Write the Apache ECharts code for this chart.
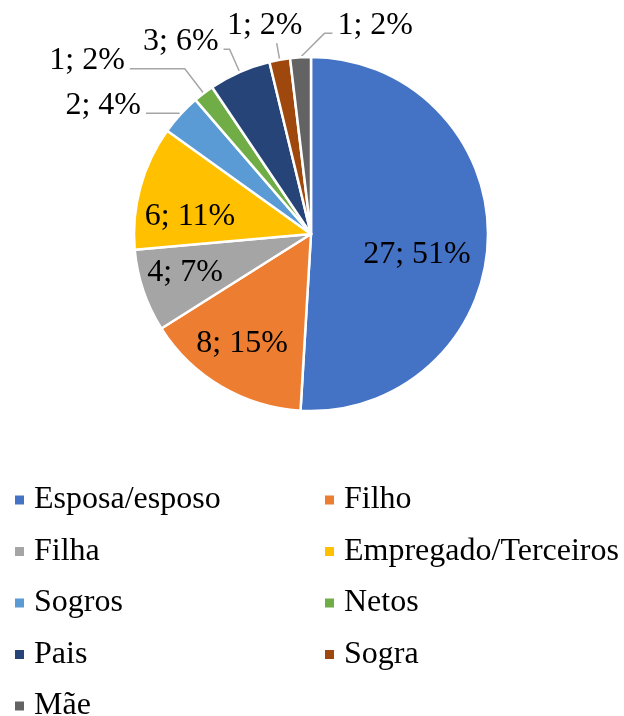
<!DOCTYPE html>
<html>
<head>
<meta charset="utf-8">
<script src="https://cdn.jsdelivr.net/npm/echarts@6/dist/echarts.min.js"></script>
<style>
  html, body { margin: 0; padding: 0; background: #fff; }
  #chart { width: 624px; height: 716px; }
</style>
</head>
<body>
<div id="chart"></div>
<script>
// ---- data ----
const categories = ['Esposa/esposo', 'Filho', 'Filha', 'Empregado/Terceiros', 'Sogros', 'Netos', 'Pais', 'Sogra', 'Mãe'];
const counts = [27, 8, 4, 6, 2, 1, 3, 1, 1];
const percentLabels = [51, 15, 7, 11, 4, 2, 6, 2, 2];
const legendLeftColumn = ['Esposa/esposo', 'Filha', 'Sogros', 'Pais', 'Mãe'];
const legendRightColumn = ['Filho', 'Empregado/Terceiros', 'Netos', 'Sogra'];

// ---- styles ----
const colors = ['#4472C4', '#ED7D31', '#A5A5A5', '#FFC000', '#5B9BD5', '#70AD47', '#264478', '#9E480E', '#636363'];
const labelMode = ['inside', 'inside', 'inside', 'inside', 'left', 'left', 'left', 'top', 'right'];
const insideRadius = [0.61, 0.73, 0.745, 0.69];      // fraction of pie radius
const insideAngleShift = [9.5, 1.7, 1.5, -7.3];      // degrees, clockwise
const lineLen = [0, 0, 0, 0, 2, 31, 25, 17, 24];
const lineLen2 = [0, 0, 0, 0, 33, 55, 6, 0, 8];
const textLift = 8;
const CX = 311, CY = 234, R = 177;
const FONT = '"Liberation Serif", "Times New Roman", serif';

const chart = echarts.init(document.getElementById('chart'), null, { renderer: 'canvas' });

const seriesData = categories.map((name, i) => ({
  name: name,
  value: counts[i],
  itemStyle: { color: colors[i] },
  label: { position: labelMode[i] === 'inside' ? 'inside' : 'outside' },
  labelLine: { show: labelMode[i] !== 'inside', length: lineLen[i], length2: lineLen2[i] }
}));

const legendBase = {
  orient: 'vertical',
  top: 483,
  height: 240,
  padding: 0,
  itemWidth: 11,
  itemHeight: 11,
  itemGap: 17.5,
  icon: 'rect',
  selectedMode: false,
  textStyle: { fontFamily: FONT, fontSize: 32, color: '#000', lineHeight: 34, padding: [0, 0, 0, 4] }
};

chart.setOption({
  animation: false,
  color: colors,
  legend: [
    Object.assign({}, legendBase, { left: 13, data: legendLeftColumn }),
    Object.assign({}, legendBase, { left: 323, data: legendRightColumn })
  ],
  series: [{
    type: 'pie',
    center: [CX, CY],
    radius: [0, R],
    startAngle: 90,
    clockwise: true,
    avoidLabelOverlap: false,
    itemStyle: { borderColor: '#fff', borderWidth: 2.5 },
    label: {
      fontFamily: FONT,
      fontSize: 32,
      color: '#000',
      distanceToLabelLine: 5,
      formatter: p => counts[p.dataIndex] + '; ' + percentLabels[p.dataIndex] + '%'
    },
    labelLine: { lineStyle: { color: '#A6A6A6', width: 1.5 } },
    labelLayout: function (params) {
      const i = params.dataIndex;
      const mode = labelMode[i];
      const r = params.labelRect;
      const pts = params.labelLinePoints;
      if (mode === 'inside') {
        const lx = r.x + r.width / 2, ly = r.y + r.height / 2;
        const ang = Math.atan2(ly - CY, lx - CX) + insideAngleShift[i] * Math.PI / 180;
        const dist = R * insideRadius[i];
        return { x: CX + dist * Math.cos(ang), y: CY + dist * Math.sin(ang), align: 'center', verticalAlign: 'middle' };
      }
      if (!pts) return {};
      if (mode === 'top') {
        return {
          labelLinePoints: [pts[0], pts[1]],
          x: pts[1][0] - 12, y: pts[1][1] - 1,
          align: 'center', verticalAlign: 'bottom'
        };
      }
      if (mode === 'right') {
        const rise = pts[0][1] - pts[1][1];
        const elbow = [pts[0][0] + rise, pts[1][1]];
        const len2 = Math.abs(pts[2][0] - pts[1][0]);
        const end = [elbow[0] + len2, elbow[1]];
        return {
          labelLinePoints: [pts[0], elbow, end],
          x: end[0] + 5, y: end[1] - textLift,
          align: 'left', verticalAlign: 'middle'
        };
      }
      // left
      return {
        x: pts[2][0] - 5, y: pts[2][1] - textLift,
        align: 'right', verticalAlign: 'middle',
        labelLinePoints: pts
      };
    },
    data: seriesData
  }]
});
</script>
</body>
</html>
